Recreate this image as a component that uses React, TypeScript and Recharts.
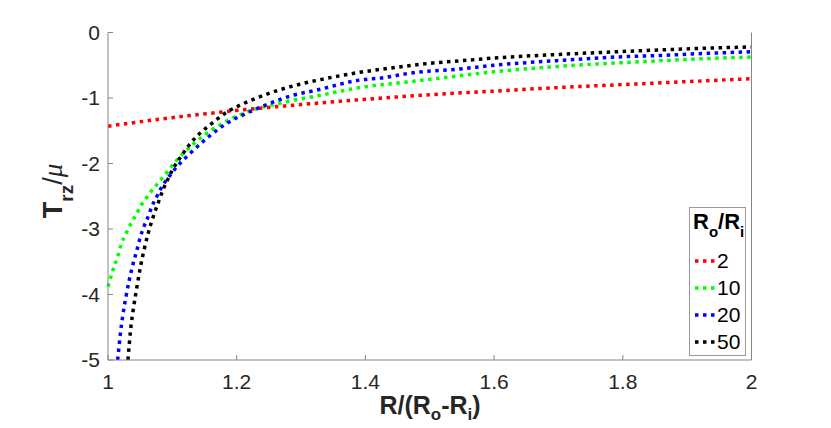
import { LineChart, Line, XAxis, YAxis } from 'recharts'

// Ro/Ri = 2
const xR2 = [1.0, 1.1, 1.2, 1.3, 1.4, 1.5, 1.6, 1.7, 1.8, 1.9, 2.0]
const yR2 = [-1.43, -1.3, -1.19, -1.1, -1.02, -0.95, -0.895, -0.84, -0.795, -0.75, -0.705]

// Ro/Ri = 10
const xR10 = [
  1.0, 1.007, 1.015, 1.021, 1.029, 1.037, 1.045, 1.05, 1.058, 1.065, 1.073, 1.081, 1.089, 1.096,
  1.107, 1.133, 1.164, 1.195, 1.226, 1.257, 1.29, 1.324, 1.392, 1.47, 1.547, 1.6, 1.697, 1.8,
  1.85, 1.925, 2.0,
]
const yR10 = [
  -3.88, -3.65, -3.42, -3.22, -3.05, -2.89, -2.76, -2.66, -2.55, -2.45, -2.36, -2.26, -2.17, -2.08,
  -1.95, -1.7, -1.47, -1.3, -1.18, -1.1, -1.03, -0.97, -0.84, -0.75, -0.66, -0.6, -0.52, -0.46,
  -0.435, -0.4, -0.374,
]

// Ro/Ri = 20
const xR20 = [
  1.015, 1.019, 1.023, 1.028, 1.033, 1.039, 1.045, 1.05, 1.056, 1.062, 1.068, 1.076, 1.083, 1.091,
  1.101, 1.125, 1.153, 1.184, 1.216, 1.247, 1.283, 1.324, 1.392, 1.428, 1.47, 1.547, 1.6, 1.697,
  1.8, 1.85, 1.925, 2.0,
]
const yR20 = [
  -5.0, -4.62, -4.32, -4.03, -3.78, -3.53, -3.32, -3.13, -2.96, -2.82, -2.66, -2.5, -2.37, -2.25,
  -2.12, -1.87, -1.62, -1.39, -1.23, -1.1, -0.97, -0.88, -0.725, -0.69, -0.62, -0.557, -0.5, -0.43,
  -0.37, -0.354, -0.32, -0.295,
]

// Ro/Ri = 50
const xR50 = [
  1.031, 1.035, 1.04, 1.045, 1.05, 1.056, 1.062, 1.07, 1.078, 1.086, 1.093, 1.1, 1.115, 1.13,
  1.146, 1.161, 1.184, 1.205, 1.231, 1.262, 1.298, 1.33, 1.39, 1.45, 1.5, 1.55, 1.6, 1.7, 1.8,
  1.9, 2.0,
]
const yR50 = [
  -5.0, -4.55, -4.18, -3.88, -3.6, -3.32, -3.08, -2.82, -2.6, -2.39, -2.24, -2.1, -1.87, -1.67,
  -1.51, -1.39, -1.22, -1.11, -1.0, -0.89, -0.79, -0.72, -0.61, -0.53, -0.47, -0.43, -0.39, -0.335,
  -0.29, -0.25, -0.22,
]

const xTicks = [1, 1.2, 1.4, 1.6, 1.8, 2]
const yTicks = [0, -1, -2, -3, -4, -5]

const toPoints = (xs: number[], ys: number[]) => xs.map((x, i) => ({ x, y: ys[i] }))

const series = [
  { name: '2', color: '#ff0000', data: toPoints(xR2, yR2) },
  { name: '10', color: '#00ff00', data: toPoints(xR10, yR10) },
  { name: '20', color: '#0000ff', data: toPoints(xR20, yR20) },
  { name: '50', color: '#000000', data: toPoints(xR50, yR50) },
]

const FONT = '"Liberation Sans", Arial, sans-serif'
const AXIS = '#858585'
const TEXT = '#262626'
const DOTS = '3.5 4.5'
const tickStyle = { fontSize: 21, fill: TEXT, fontFamily: FONT }

function XTitle() {
  return (
    <text x={430} y={414} textAnchor="middle" fontFamily={FONT} fontSize={25} fontWeight="bold" fill={TEXT}>
      R/(R
      <tspan fontSize={17} dy={6}>o</tspan>
      <tspan dy={-6}>-R</tspan>
      <tspan fontSize={17} dy={6}>i</tspan>
      <tspan dy={-6}>)</tspan>
    </text>
  )
}

function YTitle() {
  return (
    <text
      x={62}
      y={191}
      transform="rotate(-90, 62, 191)"
      textAnchor="middle"
      fontFamily={FONT}
      fontSize={27}
      fontWeight="bold"
      fill={TEXT}
    >
      T
      <tspan fontSize={19} dy={11}>rz</tspan>
      <tspan dy={-11} fontWeight="normal">/</tspan>
      <tspan fontWeight="normal" fontStyle="italic" fontFamily='"Liberation Serif", serif'>μ</tspan>
    </text>
  )
}

function LegendBox() {
  return (
    <div
      style={{
        position: 'absolute',
        left: 689,
        top: 207,
        width: 55,
        height: 147,
        border: '1px solid #999',
        background: '#fff',
        fontFamily: FONT,
        color: '#000',
      }}
    >
      <div style={{ position: 'absolute', left: 3, top: 1, fontSize: 22, fontWeight: 'bold', whiteSpace: 'nowrap' }}>
        R<span style={{ fontSize: 15, position: 'relative', top: 8 }}>o</span>/R
        <span style={{ fontSize: 15, position: 'relative', top: 8 }}>i</span>
      </div>
      {series.map((s, i) => (
        <div key={s.name} style={{ position: 'absolute', left: 5, top: 41 + i * 27, height: 24, whiteSpace: 'nowrap' }}>
          <svg width={21} height={24} style={{ position: 'absolute', left: 0, top: 0 }}>
            <line x1={0} y1={12} x2={21} y2={12} stroke={s.color} strokeWidth={3.5} strokeDasharray={DOTS} />
          </svg>
          <span style={{ position: 'absolute', left: 22, top: 0, fontSize: 21, lineHeight: '24px' }}>{s.name}</span>
        </div>
      ))}
    </div>
  )
}

export default function App() {
  return (
    <div style={{ position: 'absolute', left: 0, top: 0, width: 831, height: 428, background: '#fff' }}>
      <LineChart width={831} height={428} margin={{ top: 0, right: 0, bottom: 0, left: 0 }}>
        <XAxis
          xAxisId="bottom"
          type="number"
          dataKey="x"
          domain={[1, 2]}
          ticks={xTicks}
          height={68}
          stroke={AXIS}
          tick={tickStyle}
          tickSize={-5}
          tickMargin={19}
          label={{ content: () => <XTitle /> }}
        />
        <XAxis
          xAxisId="top"
          orientation="top"
          type="number"
          dataKey="x"
          domain={[1, 2]}
          ticks={xTicks}
          height={32.5}
          axisLine={false}
          stroke={AXIS}
          tickFormatter={() => ''}
          tickSize={-5}
        />
        <YAxis
          yAxisId="left"
          type="number"
          domain={[-5, 0]}
          ticks={yTicks}
          width={108}
          allowDataOverflow
          stroke={AXIS}
          tick={tickStyle}
          tickSize={-5}
          tickMargin={13}
          label={{ content: () => <YTitle /> }}
        />
        <YAxis
          yAxisId="right"
          orientation="right"
          type="number"
          domain={[-5, 0]}
          ticks={yTicks}
          width={79.5}
          stroke={AXIS}
          tickFormatter={() => ''}
          tickSize={-5}
        />
        {series.map((s) => (
          <Line
            key={s.name}
            xAxisId="bottom"
            yAxisId="left"
            data={s.data}
            dataKey="y"
            type="monotone"
            stroke={s.color}
            strokeWidth={3.5}
            strokeDasharray={DOTS}
            dot={false}
            activeDot={false}
            isAnimationActive={false}
          />
        ))}
      </LineChart>
      <LegendBox />
    </div>
  )
}
